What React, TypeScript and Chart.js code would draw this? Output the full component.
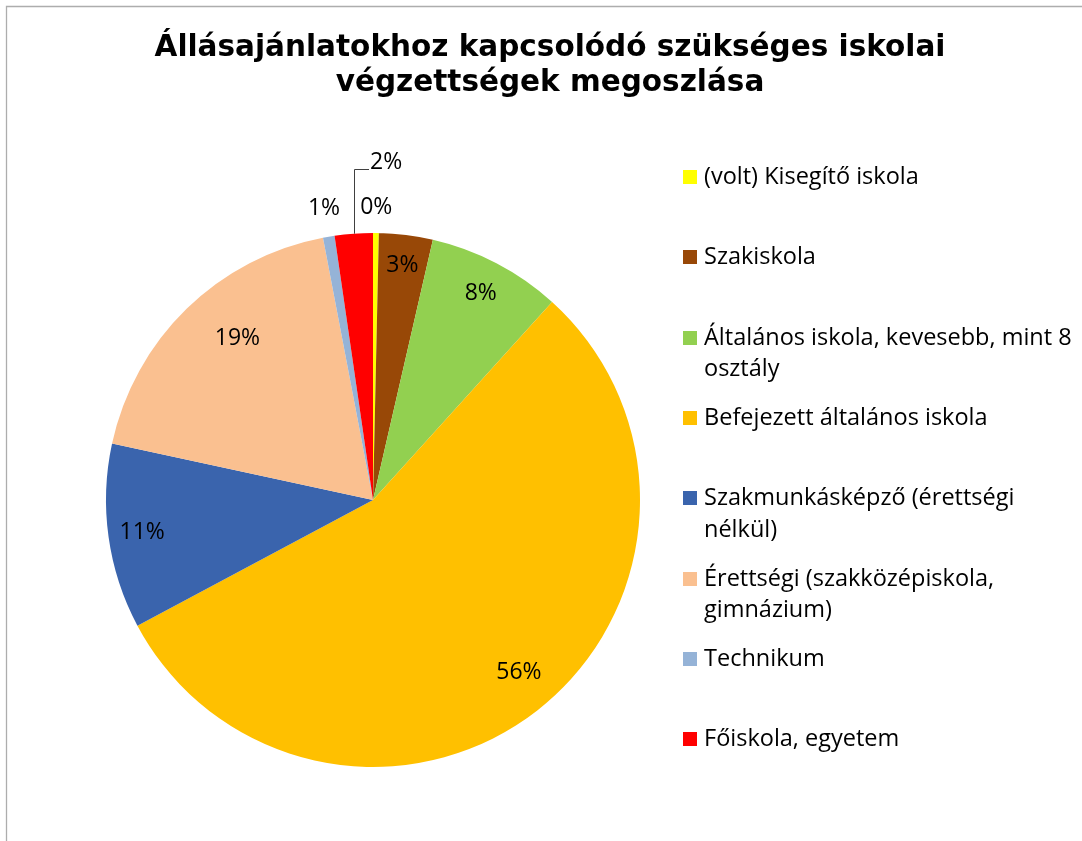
import React, { useEffect, useRef } from "react";
import { Chart, registerables } from "chart.js";

Chart.register(...registerables);

const titleLines = ["Állásajánlatokhoz kapcsolódó szükséges iskolai", "végzettségek megoszlása"];

const categories = [
  "(volt) Kisegítő iskola",
  "Szakiskola",
  "Általános iskola, kevesebb, mint 8 osztály",
  "Befejezett általános iskola",
  "Szakmunkásképző (érettségi nélkül)",
  "Érettségi (szakközépiskola, gimnázium)",
  "Technikum",
  "Főiskola, egyetem",
];

const legendLines = [
  ["(volt) Kisegítő iskola"],
  ["Szakiskola"],
  ["Általános iskola, kevesebb, mint 8", "osztály"],
  ["Befejezett általános iskola"],
  ["Szakmunkásképző (érettségi", "nélkül)"],
  ["Érettségi (szakközépiskola,", "gimnázium)"],
  ["Technikum"],
  ["Főiskola, egyetem"],
];

const values = [0.35, 3.25, 8.1, 55.5, 11.2, 18.6, 0.7, 2.3];

const colors = ["#FFFF00", "#984807", "#92D050", "#FFC000", "#3A64AD", "#FAC090", "#95B3D7", "#FF0000"];

// label radial placement (fraction of radius); -1 = leader line label
const labelRadius = [1.094, 0.887, 0.873, 0.847, 0.873, 0.79, 1.108, -1];
// small angular nudge of label from slice mid-angle (degrees)
const labelAngleShift = [0, 0, 0, -2.2, 0, 4.3, 0, 0];

const W = 1082;
const H = 841;

const decorPlugin = {
  id: "decor",
  beforeDraw(chart: any) {
    const ctx = chart.ctx;
    ctx.save();
    ctx.fillStyle = "#ffffff";
    ctx.fillRect(0, 0, W, H);
    ctx.strokeStyle = "#ADADAD";
    ctx.lineWidth = 1.3;
    ctx.beginPath();
    ctx.moveTo(6.5, H + 5);
    ctx.lineTo(6.5, 6.5);
    ctx.lineTo(W + 5, 6.5);
    ctx.stroke();
    ctx.restore();
  },
  afterDatasetsDraw(chart: any) {
    const ctx = chart.ctx;
    ctx.save();
    // title
    ctx.fillStyle = "#000";
    ctx.font = "bold 29.5px 'DejaVu Sans'";
    ctx.textAlign = "center";
    ctx.textBaseline = "alphabetic";
    ctx.fillText(titleLines[0], 550, 56);
    ctx.fillText(titleLines[1], 550, 91);

    // data labels
    const meta = chart.getDatasetMeta(0);
    const total = values.reduce((a, b) => a + b, 0);
    ctx.font = "23px 'Open Sans'";
    ctx.textBaseline = "middle";
    meta.data.forEach((arc: any, i: number) => {
      const p = arc.getProps(["x", "y", "startAngle", "endAngle", "outerRadius"], true);
      const mid = (p.startAngle + p.endAngle) / 2 + (labelAngleShift[i] * Math.PI) / 180;
      const txt = Math.round((values[i] / total) * 100) + "%";
      const f = labelRadius[i];
      if (f > 0) {
        ctx.textAlign = "center";
        ctx.fillText(txt, p.x + Math.cos(mid) * p.outerRadius * f, p.y + Math.sin(mid) * p.outerRadius * f);
      } else {
        const ex = p.x + Math.cos(mid) * p.outerRadius;
        const ey = p.y + Math.sin(mid) * p.outerRadius;
        const topY = ey - 65;
        ctx.strokeStyle = "#404040";
        ctx.lineWidth = 1;
        ctx.beginPath();
        ctx.moveTo(Math.round(ex) + 0.5, ey);
        ctx.lineTo(Math.round(ex) + 0.5, Math.round(topY) + 0.5);
        ctx.lineTo(Math.round(ex) + 15, Math.round(topY) + 0.5);
        ctx.stroke();
        ctx.textAlign = "left";
        ctx.fillText(txt, Math.round(ex) + 16, topY - 6);
      }
    });

    // legend
    ctx.font = "23.5px 'Open Sans'";
    ctx.textAlign = "left";
    ctx.textBaseline = "alphabetic";
    legendLines.forEach((lines, i) => {
      const cy = 177 + i * 80.3;
      ctx.fillStyle = colors[i];
      ctx.fillRect(683, Math.round(cy - 7), 14, 14);
      ctx.fillStyle = "#000";
      lines.forEach((ln, j) => {
        ctx.fillText(ln, 704, cy + 7 + j * 31.5);
      });
    });
    ctx.restore();
  },
};

export default function App() {
  const ref = useRef<HTMLCanvasElement | null>(null);
  useEffect(() => {
    if (!ref.current) return;
    const chart = new Chart(ref.current, {
      type: "pie",
      data: {
        labels: categories,
        datasets: [
          {
            data: values,
            backgroundColor: colors,
            borderWidth: 0,
          },
        ],
      },
      options: {
        responsive: false,
        animation: false,
        devicePixelRatio: 1,
        layout: { padding: { left: 106, right: 442, top: 233, bottom: 74 } },
        plugins: {
          legend: { display: false },
          title: { display: false },
          tooltip: { enabled: false },
        },
      },
      plugins: [decorPlugin],
    });
    return () => chart.destroy();
  }, []);
  return (
    <div style={{ position: "fixed", left: 0, top: 0, width: W, height: H, background: "#fff" }}>
      <canvas ref={ref} width={W} height={H} style={{ display: "block", width: W, height: H }} />
    </div>
  );
}
